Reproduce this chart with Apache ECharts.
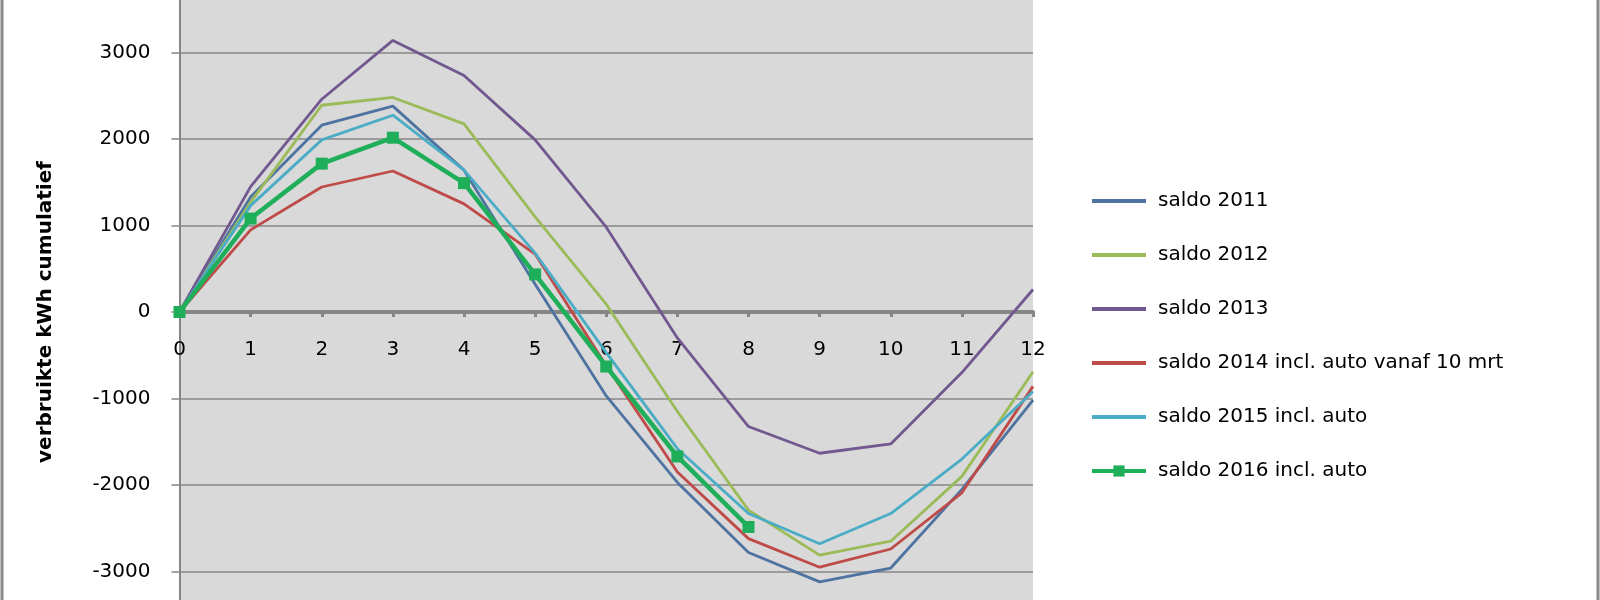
<!DOCTYPE html>
<html>
<head>
<meta charset="utf-8">
<script src="https://cdn.jsdelivr.net/npm/echarts@6/dist/echarts.min.js"></script>
<style>html,body{margin:0;padding:0;background:#fff}#c{width:1600px;height:600px}</style>
</head>
<body>
<div id="c"></div>
<script>
const months = [0, 1, 2, 3, 4, 5, 6, 7, 8, 9, 10, 11, 12];
const saldo2011 = [0, 1330, 2160, 2380, 1640, 320, -970, -1970, -2780, -3120, -2960, -2050, -1020];
const saldo2012 = [0, 1270, 2390, 2480, 2175, 1100, 90, -1150, -2290, -2810, -2650, -1900, -690];
const saldo2013 = [0, 1450, 2460, 3140, 2735, 1990, 980, -300, -1324, -1633, -1525, -700, 260];
const saldo2014 = [0, 950, 1445, 1630, 1250, 670, -620, -1850, -2620, -2950, -2740, -2090, -860];
const saldo2015 = [0, 1230, 1990, 2275, 1640, 680, -470, -1580, -2330, -2680, -2330, -1700, -920];
const saldo2016 = [0, 1080, 1715, 2015, 1490, 435, -630, -1670, -2485];
const names = ['saldo 2011', 'saldo 2012', 'saldo 2013', 'saldo 2014 incl. auto vanaf 10 mrt', 'saldo 2015 incl. auto', 'saldo 2016 incl. auto'];
const yTitle = 'verbruikte kWh cumulatief';

const pairs = arr => arr.map((v, i) => [months[i], v]);
const font = 'DejaVu Sans';

const thin = (name, data, color) => ({
  name, type: 'line', data: pairs(data), symbol: 'none',
  lineStyle: { color, width: 2.8 }, itemStyle: { color }, animation: false
});

const chart = echarts.init(document.getElementById('c'), null, { renderer: 'canvas' });
chart.setOption({
  backgroundColor: '#ffffff',
  animation: false,
  grid: { left: 179.5, right: 567, top: -34, bottom: -58, show: true, backgroundColor: '#D9D9D9', borderWidth: 0, containLabel: false, outerBoundsMode: 'none' },
  xAxis: {
    type: 'value', min: 0, max: 12, interval: 1,
    position: 'bottom', offset: -346,
    axisLine: { onZero: false, lineStyle: { color: '#868686', width: 4 } },
    axisTick: { show: true, length: 5, lineStyle: { color: '#868686', width: 3 } },
    axisLabel: { show: true, color: '#000', fontFamily: font, fontSize: 20, margin: 28, formatter: v => String(v) },
    splitLine: { show: false }
  },
  yAxis: {
    type: 'value', min: -4000, max: 4000, interval: 1000,
    name: yTitle, nameLocation: 'middle', nameGap: 124,
    nameTextStyle: { color: '#000', fontFamily: font, fontSize: 20, fontWeight: 'bold' },
    axisLine: { show: true, lineStyle: { color: '#868686', width: 2 } },
    axisTick: { show: true, length: 8, lineStyle: { color: '#868686', width: 1.5 } },
    axisLabel: { color: '#000', fontFamily: font, fontSize: 20, margin: 29, formatter: v => String(v) },
    splitLine: { show: true, lineStyle: { color: '#868686', width: 1.5 } }
  },
  legend: {
    orient: 'vertical', left: 1085, top: 186, itemGap: 34,
    itemWidth: 54, itemHeight: 14,
    lineStyle: { width: 4 },
    textStyle: { color: '#000', fontFamily: font, fontSize: 20, padding: [0, 0, 0, 7] },
    data: names.map((n, i) => i < 5 ? { name: n, itemStyle: { color: 'rgba(0,0,0,0)', borderWidth: 0 } } : { name: n })
  },
  graphic: [{
    type: 'rect', shape: { x: 2, y: -10, width: 1596, height: 620 },
    style: { fill: 'none', stroke: '#8a8a8a', lineWidth: 3 }, silent: true
  }],
  series: [
    thin(names[0], saldo2011, '#4E73A0'),
    thin(names[1], saldo2012, '#9BBB59'),
    thin(names[2], saldo2013, '#71588F'),
    thin(names[3], saldo2014, '#BE4B48'),
    thin(names[4], saldo2015, '#4BACC6'),
    {
      name: names[5], type: 'line', data: pairs(saldo2016),
      symbol: 'rect', symbolSize: 12, showSymbol: true,
      lineStyle: { color: '#1FAF5A', width: 4.5 }, itemStyle: { color: '#1FAF5A' }, animation: false
    }
  ]
});
</script>
</body>
</html>
